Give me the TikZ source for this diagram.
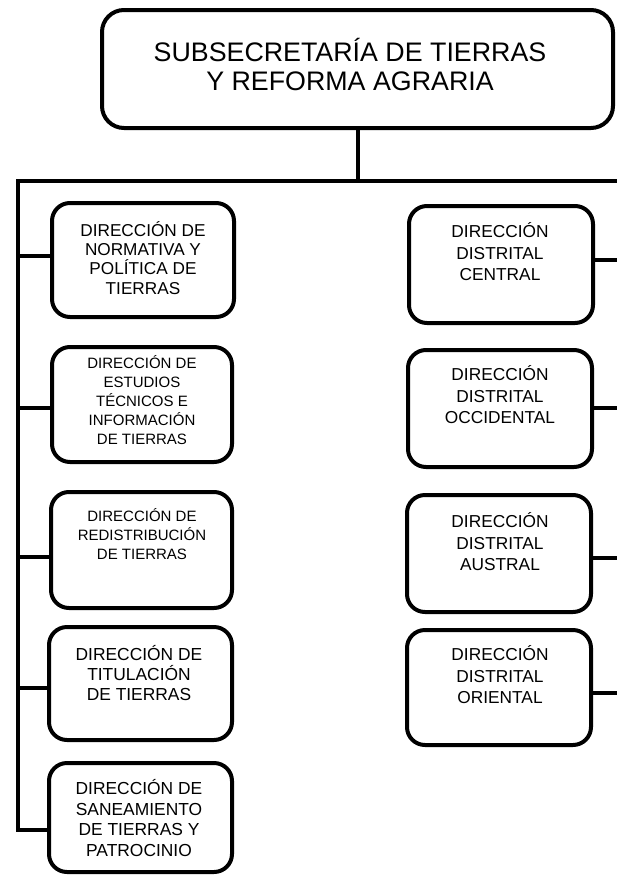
\documentclass[tikz,border=0pt]{standalone}
\usepackage{fontspec}
\setmainfont{Liberation Sans}
\begin{document}
\begin{tikzpicture}[x=1pt,y=-1pt,
  boxshape/.style={draw=black,line width=4pt,rounded corners=18pt,fill=white},
  topshape/.style={draw=black,line width=4pt,rounded corners=22pt,fill=white},
  conn/.style={draw=black,line width=3.4pt},
  txt/.style={align=center,inner sep=0pt,text=black},
  big/.style={font=\fontsize{17.2}{19.2}\selectfont},
  small/.style={font=\fontsize{15}{19}\selectfont},
  rtxt/.style={font=\fontsize{17.3}{21.5}\selectfont}]
\useasboundingbox (0,0) rectangle (617,876);
% top box
\node[topshape,minimum width=511pt,minimum height=118pt] (top) at (357.5,69) {};
\node[txt,font=\fontsize{26.8}{29}\selectfont] (topt) at (350,65) {SUBSECRETARÍA DE TIERRAS\\Y REFORMA AGRARIA};
% left boxes
\node[boxshape,minimum width=182pt,minimum height=114pt] (l1) at (143,260) {};
\node[boxshape,minimum width=180pt,minimum height=115pt] (l2) at (142,404.5) {};
\node[boxshape,minimum width=181pt,minimum height=116pt] (l3) at (141.5,550) {};
\node[boxshape,minimum width=183pt,minimum height=113pt] (l4) at (140.5,683.5) {};
\node[boxshape,minimum width=183pt,minimum height=109pt] (l5) at (140.5,817.5) {};
\node[txt,big] (l1t) at (143,258) {DIRECCIÓN DE\\NORMATIVA Y\\POLÍTICA DE\\TIERRAS};
\node[txt,small] (l2t) at (142,400) {DIRECCIÓN DE\\ESTUDIOS\\TÉCNICOS E\\INFORMACIÓN\\DE TIERRAS};
\node[txt,small] (l3t) at (142,534) {DIRECCIÓN DE\\REDISTRIBUCIÓN\\DE TIERRAS};
\node[txt,font=\fontsize{17.4}{20}\selectfont] (l4t) at (139,673) {DIRECCIÓN DE\\TITULACIÓN\\DE TIERRAS};
\node[txt,font=\fontsize{17.4}{20.5}\selectfont] (l5t) at (139,818) {DIRECCIÓN DE\\SANEAMIENTO\\DE TIERRAS Y\\PATROCINIO};
% right boxes
\node[boxshape,minimum width=184pt,minimum height=117pt] (r1) at (501,264.5) {};
\node[boxshape,minimum width=184pt,minimum height=117pt] (r2) at (500,408.5) {};
\node[boxshape,minimum width=184pt,minimum height=117pt] (r3) at (499,553.5) {};
\node[boxshape,minimum width=184pt,minimum height=115pt] (r4) at (499,687.5) {};
\node[txt,rtxt] (r1t) at (500,252) {DIRECCIÓN\\DISTRITAL\\CENTRAL};
\node[txt,rtxt] (r2t) at (500,395) {DIRECCIÓN\\DISTRITAL\\OCCIDENTAL};
\node[txt,rtxt] (r3t) at (500,542) {DIRECCIÓN\\DISTRITAL\\AUSTRAL};
\node[txt,rtxt] (r4t) at (500,675) {DIRECCIÓN\\DISTRITAL\\ORIENTAL};
% bus coordinates
\coordinate (bj) at (358,181);
\coordinate (bl) at (18,181);
\coordinate (br) at (618,181);
\coordinate (lb) at (18,830);
\coordinate (lc1) at (18,256);
\coordinate (lc2) at (18,408);
\coordinate (lc3) at (18,557);
\coordinate (lc4) at (18,688);
\coordinate (rx1) at (618,260);
\coordinate (rx2) at (618,408);
\coordinate (rx3) at (618,558);
\coordinate (rx4) at (618,693);
% connectors
\draw[conn] (top.south -| bj) -- (bj);
\draw[conn,line join=miter] (br) -- (bl) -- (lb) -- (lb -| l5.west);
\draw[conn] (lc1) -- (lc1 -| l1.west);
\draw[conn] (lc2) -- (lc2 -| l2.west);
\draw[conn] (lc3) -- (lc3 -| l3.west);
\draw[conn] (lc4) -- (lc4 -| l4.west);
\draw[conn] (r1.east |- rx1) -- (rx1);
\draw[conn] (r2.east |- rx2) -- (rx2);
\draw[conn] (r3.east |- rx3) -- (rx3);
\draw[conn] (r4.east |- rx4) -- (rx4);
\end{tikzpicture}
\end{document}
